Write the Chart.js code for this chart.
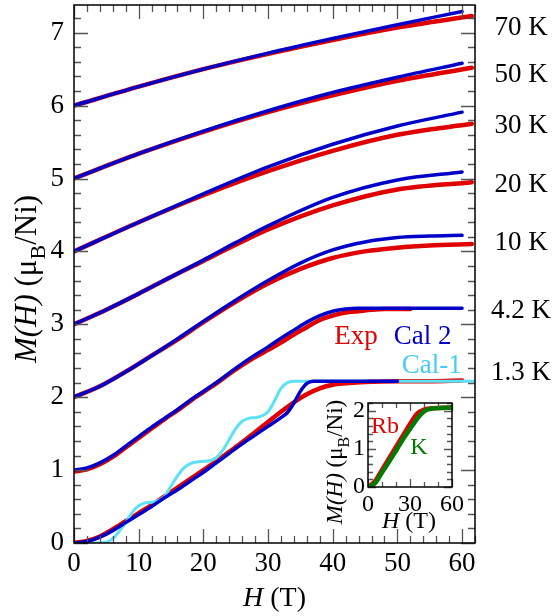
<!DOCTYPE html>
<html>
<head>
<meta charset="utf-8">
<script src="https://cdn.jsdelivr.net/npm/chart.js@4.4.0/dist/chart.umd.min.js"></script>
<style>
html,body{margin:0;padding:0;background:#fff;}
#wrap{position:relative;width:558px;height:616px;}
#main{position:absolute;left:0;top:0;}
#inset{position:absolute;left:312px;top:390px;}
</style>
</head>
<body>
<div id="wrap">
<canvas id="main" width="558" height="616"></canvas>
<canvas id="inset" width="155" height="148"></canvas>
</div>
<script>
const SERIF = '"Liberation Serif", "Times New Roman", serif';

// temperature labels (top to bottom) and where they sit, in M units
const temps = ['70 K', '50 K', '30 K', '20 K', '10 K', '4.2 K', '1.3 K'];
const tempLabelM = [7.06, 6.42, 5.72, 4.91, 4.12, 3.18, 2.33];

// ---- Exp (red), curves offset by 1 muB each ----
const exp70H = [0, 10, 20, 30, 40, 50, 61.5];
const exp70M = [6.0, 6.26, 6.50, 6.71, 6.90, 7.07, 7.23];
const exp50H = [0, 10, 20, 30, 40, 50, 61.5];
const exp50M = [5.0, 5.34, 5.64, 5.91, 6.14, 6.34, 6.52];
const exp30H = [0, 10, 20, 30, 40, 50, 61.5];
const exp30M = [4.0, 4.40, 4.77, 5.10, 5.38, 5.60, 5.75];
const exp20H = [0, 5, 10, 15, 20, 25, 30, 40, 50, 61.5];
const exp20M = [3.0, 3.20, 3.42, 3.65, 3.87, 4.09, 4.30, 4.63, 4.85, 4.95];
const exp10H = [0, 4, 8, 12, 16, 20, 25, 30, 35, 40, 45, 50, 55, 61.5];
const exp10M = [2.0, 2.15, 2.35, 2.57, 2.79, 3.03, 3.31, 3.56, 3.76, 3.91, 4.00, 4.05, 4.08, 4.10];
const exp4H = [0, 2, 4, 6, 8, 10, 12, 14, 16, 18, 20, 22, 24, 26, 28, 30, 32, 34, 36, 38, 40, 42, 44, 46, 48, 52];
const exp4M = [0.98, 1.01, 1.08, 1.18, 1.31, 1.44, 1.57, 1.70, 1.82, 1.95, 2.07, 2.19, 2.32, 2.44, 2.55, 2.65, 2.75, 2.86, 2.96, 3.06, 3.12, 3.16, 3.18, 3.20, 3.21, 3.21];
const exp1H = [0, 2, 4, 6, 8, 10, 12, 14, 16, 18, 20, 22, 24, 26, 28, 30, 32, 34, 36, 38, 40, 42, 45, 50, 55, 60];
const exp1M = [0, 0.03, 0.09, 0.19, 0.30, 0.41, 0.52, 0.64, 0.76, 0.88, 1.00, 1.12, 1.25, 1.38, 1.52, 1.66, 1.80, 1.93, 2.04, 2.12, 2.17, 2.19, 2.21, 2.22, 2.22, 2.23];

// ---- Cal 2 (blue) ----
const cal70H = [0, 10, 20, 30, 40, 50, 60];
const cal70M = [6.0, 6.26, 6.50, 6.72, 6.92, 7.11, 7.29];
const cal50H = [0, 10, 20, 30, 40, 50, 60];
const cal50M = [5.0, 5.34, 5.65, 5.93, 6.18, 6.39, 6.58];
const cal30H = [0, 10, 20, 30, 40, 50, 60];
const cal30M = [4.0, 4.40, 4.79, 5.16, 5.47, 5.72, 5.91];
const cal20H = [0, 5, 10, 15, 20, 25, 30, 40, 50, 60];
const cal20M = [3.0, 3.20, 3.42, 3.65, 3.88, 4.12, 4.35, 4.74, 4.98, 5.09];
const cal10H = [0, 4, 8, 12, 16, 20, 25, 30, 35, 40, 45, 50, 55, 60];
const cal10M = [2.0, 2.15, 2.35, 2.57, 2.80, 3.04, 3.33, 3.60, 3.84, 4.02, 4.13, 4.19, 4.21, 4.22];
const cal4H = [0, 2, 4, 6, 8, 10, 12, 14, 16, 18, 20, 22, 24, 26, 28, 30, 32, 34, 36, 38, 40, 42, 44, 60];
const cal4M = [1.0, 1.03, 1.10, 1.20, 1.33, 1.46, 1.59, 1.71, 1.83, 1.96, 2.08, 2.20, 2.33, 2.46, 2.58, 2.69, 2.81, 2.92, 3.03, 3.12, 3.18, 3.21, 3.22, 3.22];
const cal1H = [0, 2, 4, 6, 8, 10, 12, 14, 16, 18, 20, 22, 24, 26, 28, 30, 32, 33, 34, 35, 36, 37, 50];
const cal1M = [0, 0.02, 0.08, 0.17, 0.28, 0.39, 0.50, 0.62, 0.73, 0.85, 0.97, 1.10, 1.23, 1.36, 1.48, 1.60, 1.72, 1.79, 1.92, 2.08, 2.19, 2.22, 2.22];

// ---- Cal-1 (cyan), 1.3 K only, step-like ----
const calOneH = [0, 4, 5, 6, 7, 8, 9, 10, 11, 12, 13, 14, 15, 16, 17, 18, 19, 20, 21, 22, 23, 24, 25, 26, 27, 28, 29, 30, 31, 32, 33, 34, 62];
const calOneM = [0, 0, 0.01, 0.06, 0.16, 0.28, 0.42, 0.51, 0.55, 0.56, 0.58, 0.64, 0.78, 0.92, 1.03, 1.09, 1.11, 1.12, 1.13, 1.17, 1.27, 1.42, 1.57, 1.67, 1.71, 1.72, 1.74, 1.80, 1.95, 2.12, 2.20, 2.22, 2.22];

// ---- inset: Rb (red) and K (green) ----
const rbH = [0, 5, 10, 15, 20, 25, 30, 35, 40, 45, 60];
const rbM = [0, 0.15, 0.45, 0.75, 1.05, 1.35, 1.65, 1.92, 2.03, 2.06, 2.08];
const kH = [0, 5, 10, 15, 20, 25, 30, 35, 40, 45, 60];
const kM = [0, 0.10, 0.38, 0.66, 0.95, 1.25, 1.52, 1.78, 1.98, 2.05, 2.08];

const RED = '#e00000', BLUE = '#0000c8', CYAN = '#5ce1f5', GREEN = '#007d00';

function pts(H, M) { return H.map((h, i) => ({x: h, y: M[i]})); }

const expSets = [[exp70H, exp70M], [exp50H, exp50M], [exp30H, exp30M], [exp20H, exp20M], [exp10H, exp10M], [exp4H, exp4M], [exp1H, exp1M]];
const calSets = [[cal70H, cal70M], [cal50H, cal50M], [cal30H, cal30M], [cal20H, cal20M], [cal10H, cal10M], [cal4H, cal4M], [cal1H, cal1M]];

const datasets = [];
calSets.forEach(s => datasets.push({data: pts(s[0], s[1]), borderColor: BLUE, borderWidth: 3.5, order: 0}));
datasets.push({data: pts(calOneH, calOneM), borderColor: CYAN, borderWidth: 3, order: 1});
expSets.forEach(s => datasets.push({data: pts(s[0], s[1]), borderColor: RED, borderWidth: 4.5, order: 2}));

function richText(ctx, parts, x, y, size) {
  const fonts = parts.map(p => p[1] === 'i' ? 'italic ' + size + 'px ' + SERIF
    : p[1] === 's' ? Math.round(size * 0.7) + 'px ' + SERIF : size + 'px ' + SERIF);
  let w = 0;
  parts.forEach((p, i) => { ctx.font = fonts[i]; w += ctx.measureText(p[0]).width; });
  let cx = x - w / 2;
  ctx.textAlign = 'left';
  ctx.textBaseline = 'alphabetic';
  parts.forEach((p, i) => {
    ctx.font = fonts[i];
    ctx.fillText(p[0], cx, y + (p[1] === 's' ? size * 0.3 : 0));
    cx += ctx.measureText(p[0]).width;
  });
}

// frame + inward ticks on all four sides
function drawFrame(chart, f) {
  const ctx = chart.ctx, a = chart.chartArea;
  const xs = chart.scales.x, ys = chart.scales.y;
  ctx.save();
  ctx.strokeStyle = '#555';
  ctx.lineWidth = 1.3;
  const isMajor = (v, step) => Math.abs(v / step - Math.round(v / step)) < 1e-6;
  for (let n = 0; n * f.xMinor <= xs.max + 1e-9; n++) {
    const v = n * f.xMinor, px = Math.round(xs.getPixelForValue(v)) + 0.5;
    const len = isMajor(v, f.xMajor) ? f.majLen : f.minLen;
    ctx.beginPath();
    ctx.moveTo(px, a.bottom); ctx.lineTo(px, a.bottom - len);
    ctx.moveTo(px, a.top); ctx.lineTo(px, a.top + len);
    ctx.stroke();
  }
  for (let n = 0; n * f.yMinor <= ys.max + 1e-9; n++) {
    const v = n * f.yMinor, py = Math.round(ys.getPixelForValue(v)) + 0.5;
    const len = isMajor(v, f.yMajor) ? f.majLen : f.minLen;
    ctx.beginPath();
    ctx.moveTo(a.left, py); ctx.lineTo(a.left + len, py);
    ctx.moveTo(a.right, py); ctx.lineTo(a.right - len, py);
    ctx.stroke();
  }
  ctx.strokeStyle = '#000';
  ctx.lineWidth = 1.5;
  ctx.strokeRect(a.left, a.top, a.right - a.left, a.bottom - a.top);
  ctx.restore();
}

// keep the plot box exactly where the layout padding puts it
function fixX(h) { return s => { s.height = h; s.paddingLeft = 0; s.paddingRight = 0; }; }
function fixY(w) { return s => { s.width = w; s.paddingTop = 0; s.paddingBottom = 0; }; }

const mainDecor = {
  id: 'mainDecor',
  afterDraw(chart) {
    const ctx = chart.ctx, a = chart.chartArea;
    const xs = chart.scales.x, ys = chart.scales.y;
    drawFrame(chart, {xMinor: 2, xMajor: 10, yMinor: 0.2, yMajor: 1, majLen: 14, minLen: 7});
    ctx.save();
    ctx.fillStyle = '#000';
    ctx.font = '27px ' + SERIF;
    ctx.textAlign = 'center';
    ctx.textBaseline = 'middle';
    temps.forEach((t, i) => ctx.fillText(t, a.right + 46, ys.getPixelForValue(tempLabelM[i])));
    // legend words inside the plot
    ctx.fillStyle = RED; ctx.fillText('Exp', xs.getPixelForValue(43.6), ys.getPixelForValue(2.83));
    ctx.fillStyle = BLUE; ctx.fillText('Cal 2', xs.getPixelForValue(53.9), ys.getPixelForValue(2.83));
    ctx.fillStyle = '#44cdf7'; ctx.fillText('Cal-1', xs.getPixelForValue(55.3), ys.getPixelForValue(2.43));
    // axis titles
    ctx.fillStyle = '#000';
    richText(ctx, [['H', 'i'], [' (T)', 'n']], (a.left + a.right) / 2, 606, 28);
    ctx.translate(36, 279);
    ctx.rotate(-Math.PI / 2);
    richText(ctx, [['M(H)', 'i'], [' (\u03bc', 'n'], ['B', 's'], ['/Ni)', 'n']], 0, 0, 31);
    ctx.restore();
  }
};

new Chart(document.getElementById('main'), {
  type: 'line',
  data: {datasets: datasets},
  options: {
    responsive: false,
    animation: false,
    devicePixelRatio: 1,
    layout: {padding: {top: 5, right: 83, left: 0, bottom: 0}},
    plugins: {legend: {display: false}, tooltip: {enabled: false}},
    elements: {point: {radius: 0}, line: {cubicInterpolationMode: 'monotone', borderCapStyle: 'round', borderJoinStyle: 'round'}},
    scales: {
      x: {
        type: 'linear', min: 0, max: 62,
        grid: {display: false, drawTicks: false}, border: {display: false},
        ticks: {stepSize: 10, includeBounds: false, color: '#000', font: {family: SERIF, size: 27}, padding: 5, maxRotation: 0},
        afterFit: fixX(73)
      },
      y: {
        type: 'linear', min: 0, max: 7.38,
        grid: {display: false, drawTicks: false}, border: {display: false},
        ticks: {stepSize: 1, includeBounds: false, color: '#000', font: {family: SERIF, size: 27}, padding: 10},
        afterFit: fixY(74)
      }
    }
  },
  plugins: [mainDecor]
});

const insetDecor = {
  id: 'insetDecor',
  afterDraw(chart) {
    const ctx = chart.ctx;
    const xs = chart.scales.x, ys = chart.scales.y;
    drawFrame(chart, {xMinor: 10, xMajor: 30, yMinor: 0.2, yMajor: 1, majLen: 8, minLen: 5});
    ctx.save();
    ctx.font = '24px ' + SERIF;
    ctx.textAlign = 'center';
    ctx.textBaseline = 'middle';
    ctx.fillStyle = RED; ctx.fillText('Rb', xs.getPixelForValue(12.1), ys.getPixelForValue(1.58));
    ctx.fillStyle = GREEN; ctx.fillText('K', xs.getPixelForValue(36.4), ys.getPixelForValue(1.04));
    ctx.fillStyle = '#000';
    richText(ctx, [['H', 'i'], [' (T)', 'n']], 97, 138, 24);
    ctx.translate(30, 72);
    ctx.rotate(-Math.PI / 2);
    richText(ctx, [['M(H)', 'i'], [' (\u03bc', 'n'], ['B', 's'], ['/Ni)', 'n']], 0, 0, 23);
    ctx.restore();
  }
};

new Chart(document.getElementById('inset'), {
  type: 'line',
  data: {datasets: [
    {data: pts(kH, kM), borderColor: GREEN, borderWidth: 4.5, order: 0},
    {data: pts(rbH, rbM), borderColor: RED, borderWidth: 4.5, order: 1}
  ]},
  options: {
    responsive: false,
    animation: false,
    devicePixelRatio: 1,
    layout: {padding: {top: 13, right: 15, left: 0, bottom: 0}},
    plugins: {legend: {display: false}, tooltip: {enabled: false}},
    elements: {point: {radius: 0}, line: {cubicInterpolationMode: 'monotone', borderCapStyle: 'round'}},
    scales: {
      x: {
        type: 'linear', min: 0, max: 60,
        grid: {display: false, drawTicks: false}, border: {display: false},
        ticks: {stepSize: 30, includeBounds: false, color: '#000', font: {family: SERIF, size: 24}, padding: 3, maxRotation: 0},
        afterFit: fixX(51)
      },
      y: {
        type: 'linear', min: 0, max: 2.2,
        grid: {display: false, drawTicks: false}, border: {display: false},
        ticks: {stepSize: 1, includeBounds: false, color: '#000', font: {family: SERIF, size: 24}, padding: 3},
        afterFit: fixY(56)
      }
    }
  },
  plugins: [insetDecor]
});
</script>
</body>
</html>
